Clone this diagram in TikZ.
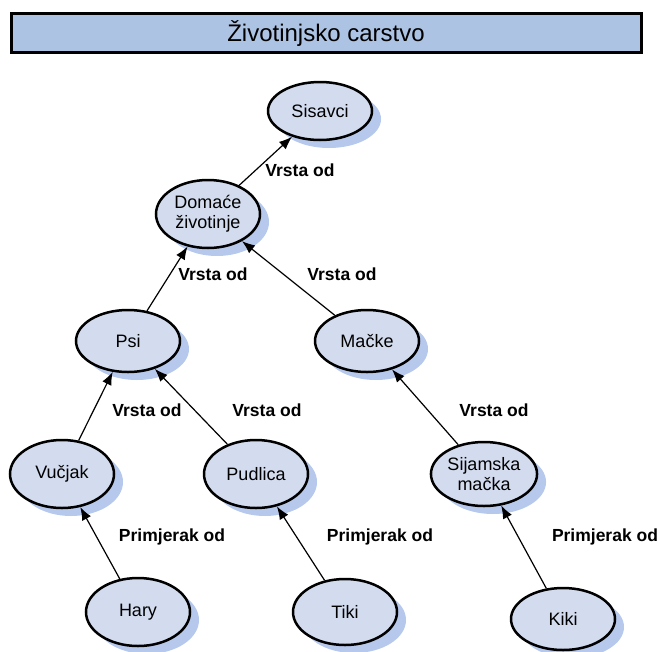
\documentclass[tikz,border=0pt]{standalone}
\usepackage{fontspec}
\setmainfont{Liberation Sans}
\usetikzlibrary{arrows.meta,shapes.geometric,shadows}
\definecolor{nodeblue}{RGB}{211,220,238}
\definecolor{titleblue}{RGB}{173,195,227}
\definecolor{shadeblue}{RGB}{182,200,236}
\begin{document}
\begin{tikzpicture}[x=1pt,y=-1pt,>={Latex[length=13pt,width=10pt]},
concept/.style={ellipse,draw=black,line width=2.5pt,fill=nodeblue,align=center,
  minimum width=104pt,minimum height=62pt,inner sep=1pt,font=\fontsize{18}{20}\selectfont,
  drop shadow={shadow xshift=9pt,shadow yshift=-8pt,fill=shadeblue,opacity=1}},
rel/.style={font=\fontsize{17.5}{20}\selectfont\bfseries,inner sep=1pt},
link/.style={->,line width=1.2pt,draw=black}]
\useasboundingbox (0,0) rectangle (660,651);
\node[draw=black,line width=3pt,fill=titleblue,minimum width=630pt,minimum height=39pt,
  font=\fontsize{24}{28}\selectfont] (title) at (326,33) {Životinjsko carstvo};
\node[concept,minimum height=58pt] (sisavci) at (320,111) {Sisavci};
\node[concept,minimum height=68pt] (domace) at (208,214) {Domaće\\životinje};
\node[concept] (psi) at (128,341) {Psi};
\node[concept] (macke) at (367,341) {Mačke};
\node[concept,minimum height=68pt] (vucjak) at (62,474) {Vučjak};
\node[concept,minimum height=68pt] (pudlica) at (256,474) {Pudlica};
\node[concept,minimum height=64pt] (sijamska) at (484,474) {Sijamska\\mačka};
\node[concept,minimum height=68pt] (hary) at (138,612) {Hary};
\node[concept,minimum height=66pt] (tiki) at (345,612) {Tiki};
\node[concept] (kiki) at (563,619) {Kiki};
\node[rel] (l1) at (300,170) {Vrsta od};
\node[rel] (l2) at (213,274) {Vrsta od};
\node[rel] (l3) at (342,274) {Vrsta od};
\node[rel] (l4) at (147,410) {Vrsta od};
\node[rel] (l5) at (267,410) {Vrsta od};
\node[rel] (l6) at (494,410) {Vrsta od};
\node[rel] (l7) at (172,537) {Primjerak od};
\node[rel] (l8) at (380,537) {Primjerak od};
\node[rel] (l9) at (605,537) {Primjerak od};
\draw[link] (domace)--(sisavci);
\draw[link] (psi)--(domace);
\draw[link] (macke)--(domace);
\draw[link] (vucjak)--(psi);
\draw[link] (pudlica)--(psi);
\draw[link] (sijamska)--(macke);
\draw[link] (hary)--(vucjak);
\draw[link] (tiki)--(pudlica);
\draw[link] (kiki)--(sijamska);
\end{tikzpicture}
\end{document}
